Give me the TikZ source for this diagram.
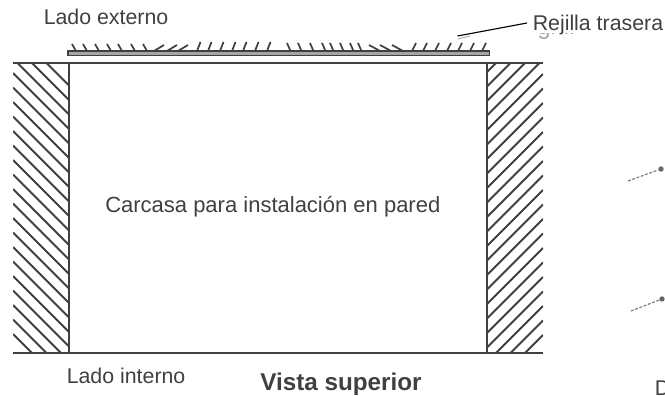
\documentclass[tikz,border=0pt]{standalone}
\usepackage{fontspec}
\setmainfont{Liberation Sans}
\definecolor{ink}{HTML}{404040}
\tikzset{
  wall/.style={draw=ink,line width=1.7pt},
  hatchline/.style={draw=ink,line width=1.5pt},
  hair/.style={draw=ink,line width=1.3pt},
  lbl/.style={inner sep=0pt,anchor=base west,text=ink,font=\fontsize{16}{19}\selectfont},
  stub/.style={draw=gray,line width=0.9pt,dash pattern=on 2.2pt off 1.2pt},
  pin/.style={circle,fill=gray!80!black,inner sep=0pt,minimum size=4pt}
}
\begin{document}
\begin{tikzpicture}[x=0.75pt,y=-0.75pt]
\useasboundingbox (0,0) rectangle (665,396);
% left hatch
\begin{scope}
\clip (13,63) rectangle (69,353);
\foreach \k in {0,...,21}{
  \pgfmathsetmacro{\c}{-321+14.5*\k}
  \draw[hatchline] (13,13-\c) -- (69,69-\c);
}
\end{scope}
% right hatch
\begin{scope}
\clip (487,63) rectangle (543,353);
\foreach \k in {0,...,22}{
  \pgfmathsetmacro{\c}{878-14.5*\k}
  \draw[hatchline] (487,\c-487) -- (543,\c-543);
}
\end{scope}
% walls
\draw[wall] (13,63) -- (543,63);
\draw[wall] (13,353) -- (543,353);
\draw[wall] (69,63) -- (69,353);
\draw[wall] (487,63) -- (487,353);
% grille
\draw[draw=ink,fill=gray!70,line width=1.25pt] (68,51) rectangle (489.5,55.5);
\foreach \x in {72,83,95,107,118,131,143}{\draw[hair] (\x,44) -- (\x+4,51);}
\foreach \x in {154,167,178}{\draw[hair] (\x,51) -- (\x+10,45);}
\foreach \x in {197,208,220,232,243,255,267}{\draw[hair] (\x,51) -- (\x+3.5,42);}
\foreach \x in {287,298,310,322,330,340,350,358}{\draw[hair] (\x,43) -- (\x+3.5,51);}
\foreach \x in {369,380,392}{\draw[hair] (\x,45) -- (\x+12,51.5);}
\foreach \x in {412,423,435,447,458,470,482}{\draw[hair] (\x,51) -- (\x+4,43);}
% labels
\node[lbl] (ext) at (43.5,24) {Lado externo};
\node[lbl] (int) at (66.5,383) {Lado interno};
\node[lbl,font=\fontsize{16.5}{19}\selectfont] (body) at (105,212) {Carcasa para instalación en pared};
\node[lbl,font=\fontsize{18.2}{21}\selectfont\bfseries] (top) at (260,390) {Vista superior};
\node[lbl] (dd) at (654.5,395) {D};
% remnant under the label
\begin{scope}
\clip (520,33) rectangle (600,45);
\node[lbl,text=gray!70,font=\fontsize{18}{20}\selectfont] (gr) at (537,35) {grill};
\end{scope}
\node[lbl] (rej) at (532.5,31) {Rejilla trasera};
% leader
\coordinate (leadstart) at (527,23);
\coordinate (leadend) at (457.5,36);
\draw[draw=black,line width=0.85pt] (leadstart) -- (leadend);
\coordinate (g1) at (458,39);
\coordinate (g2) at (470,36);
\draw[draw=gray!70,line width=0.7pt] (g1) -- (g2);
% stubs
\node[pin] (p1) at (661,169) {};
\node[pin] (p2) at (662,299) {};
\coordinate (s1) at (628,181);
\coordinate (s2) at (631,311);
\draw[stub] (s1) -- (p1);
\draw[stub] (s2) -- (p2);
\end{tikzpicture}
\end{document}
